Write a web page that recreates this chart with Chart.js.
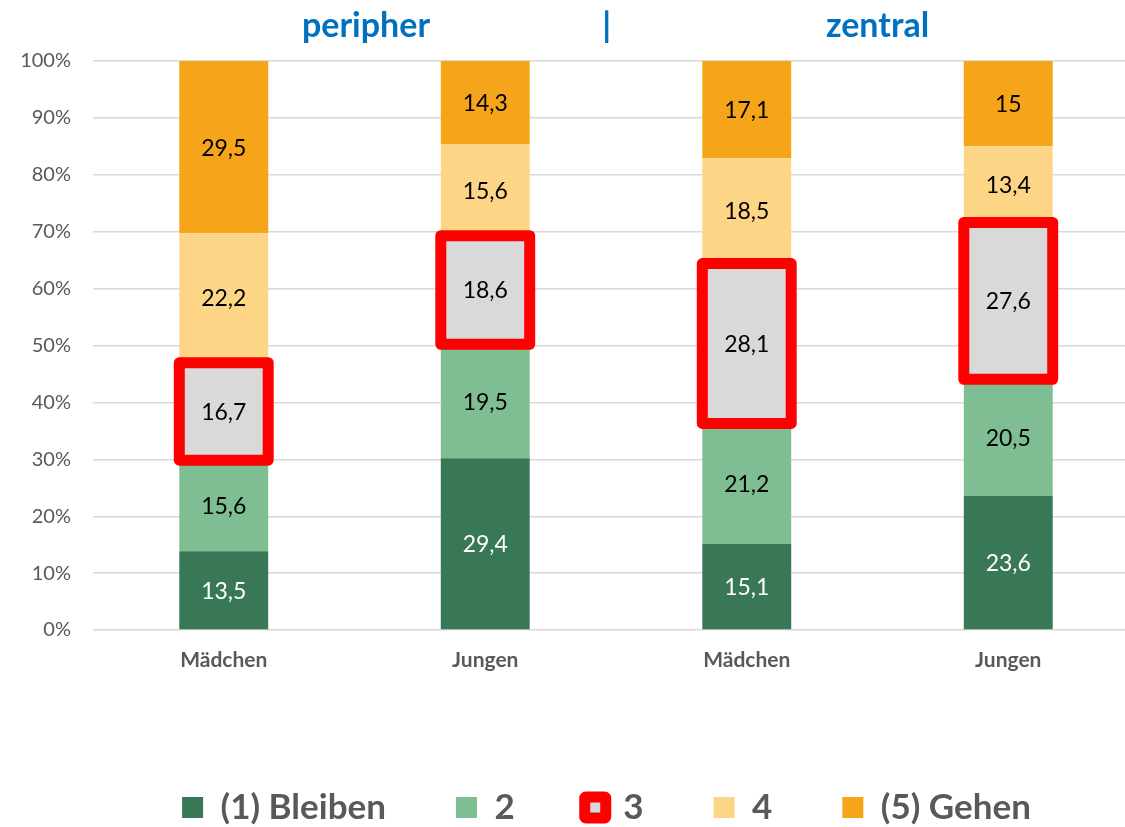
<!DOCTYPE html>
<html>
<head>
<meta charset="utf-8">
<script src="https://cdn.jsdelivr.net/npm/chart.js@4"></script>
<style>
    html, body { margin: 0; padding: 0; background: #fff; overflow: hidden; }
    #wrap { width: 1125px; height: 827px; overflow: hidden; }
    #box  { width: 1276px; height: 827px; }
</style>
</head>
<body>
<div id="wrap"><div id="box"><canvas id="chart"></canvas></div></div>
<script>
// data (raw shares, each bar is scaled to 100%)
const categories  = ["Mädchen", "Jungen", "Mädchen", "Jungen"];
const seriesNames = ["(1) Bleiben", "2", "3", "4", "(5) Gehen"];
const bleiben     = [13.5, 29.4, 15.1, 23.6];
const stufe2      = [15.6, 19.5, 21.2, 20.5];
const stufe3      = [16.7, 18.6, 28.1, 27.6];
const stufe4      = [22.2, 15.6, 18.5, 13.4];
const gehen       = [29.5, 14.3, 17.1, 15];
const groupTitles = ["peripher", "|", "zentral"];

const series = [bleiben, stufe2, stufe3, stufe4, gehen];
const colors = ["#387857", "#7fbe92", "#d9d9d9", "#fdd587", "#f6a51a"];
const FONT = "Lato, 'Liberation Sans', sans-serif";

// totals per bar, used to stack to 100%
const totals = categories.map((c, i) => series.reduce((s, arr) => s + arr[i], 0));

///////////////////////////////////////////////////////////////////////////////
// red frame around series 3 + value labels
const framePlugin =
{
    id: "frame",
    afterLayout(chart)
    {
        // legend sits a bit right of the canvas centre
        chart.legend.left += 37;
        chart.legend.right += 37;
    },
    afterDatasetsDraw(chart)
    {
        let ctx = chart.ctx;
        ctx.save();
        chart.getDatasetMeta(2).data.forEach(bar =>
        {
            let p = bar.getProps(["x", "y", "base", "width"], true);
            ctx.lineWidth = 11;
            ctx.lineJoin = "round";
            ctx.strokeStyle = "#ff0000";
            ctx.strokeRect(p.x - p.width / 2, p.y, p.width, p.base - p.y);
        });

        // labels
        ctx.font = "23px " + FONT;
        ctx.textAlign = "center";
        ctx.textBaseline = "middle";
        series.forEach((arr, d) =>
        {
            chart.getDatasetMeta(d).data.forEach((bar, i) =>
            {
                let p = bar.getProps(["x", "y", "base"], true);
                ctx.fillStyle = d == 0 ? "#ffffff" : "#000000";
                ctx.fillText(String(arr[i]).replace(".", ","), p.x, (p.y + p.base) / 2 + 1);
            });
        });
        ctx.restore();
    }
};

// group titles on top
const titlePlugin =
{
    id: "groupTitles",
    afterDraw(chart)
    {
        let ctx = chart.ctx;
        let a = chart.chartArea;
        let spots = [0.261, 0.491, 0.750];
        ctx.save();
        ctx.font = "bold 34px " + FONT;
        ctx.fillStyle = "#0070c0";
        ctx.textAlign = "center";
        ctx.textBaseline = "middle";
        groupTitles.forEach((t, i) => ctx.fillText(t, a.left + spots[i] * (a.right - a.left), 26));
        ctx.restore();
    }
};

///////////////////////////////////////////////////////////////////////////////
let context = document.getElementById("chart").getContext("2d");
let chart = new Chart(context,
{
    type: "bar",
    data:
    {
        labels: categories,
        datasets: series.map((arr, d) => ({
            label: seriesNames[d],
            data: arr.map((v, i) => v / totals[i] * 100),
            backgroundColor: colors[d],
            borderWidth: 0,
            barPercentage: 0.34,
            categoryPercentage: 1.0
        }))
    },
    options:
    {
        responsive: true,
        maintainAspectRatio: false,
        animation: false,
        layout: { padding: { top: 61, right: 137, left: 0, bottom: -8 } },
        scales:
        {
            x:
            {
                stacked: true,
                grid: { display: false },
                border: { display: false },
                ticks: { color: "#595959", font: { family: FONT, size: 21, weight: "bold" }, padding: 10 },
                afterFit(axis) { axis.height = 90; }
            },
            y:
            {
                stacked: true,
                min: 0,
                max: 100,
                grid: { color: "#d9d9d9", lineWidth: 1.4, drawTicks: false },
                border: { display: false },
                ticks:
                {
                    stepSize: 10,
                    color: "#595959",
                    font: { family: FONT, size: 20 },
                    padding: 22,
                    callback: v => v + "%"
                },
                afterFit(axis) { axis.width = 93; }
            }
        },
        plugins:
        {
            tooltip: { enabled: false },
            legend:
            {
                position: "bottom",
                labels:
                {
                    color: "#595959",
                    font: { family: FONT, size: 35, weight: "bold" },
                    boxWidth: 21,
                    boxHeight: 21,
                    padding: 70,
                    useBorderRadius: true,
                    generateLabels(ch)
                    {
                        let items = Chart.defaults.plugins.legend.labels.generateLabels(ch);
                        items.forEach((it, i) =>
                        {
                            it.lineWidth = 0;
                            it.borderRadius = 0;
                            if(i == 2)
                            {
                                it.lineWidth = 11;
                                it.strokeStyle = "#ff0000";
                                it.borderRadius = 1;
                            }
                        });
                        return items;
                    }
                }
            }
        }
    },
    plugins: [framePlugin, titlePlugin]
});
</script>
</body>
</html>
